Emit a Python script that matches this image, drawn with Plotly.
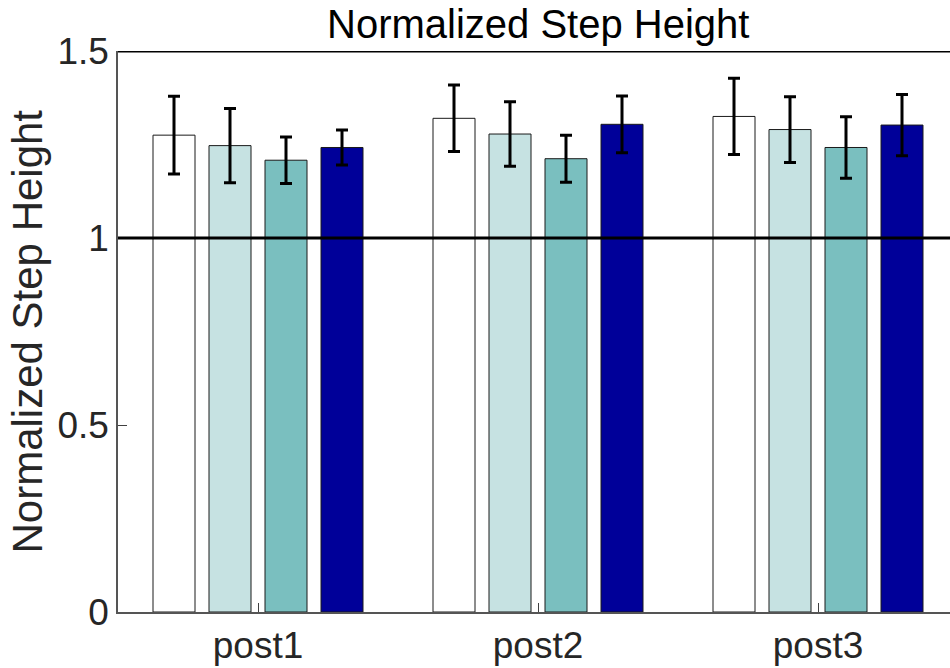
import plotly.graph_objects as go

categories = ["post1", "post2", "post3"]
cat_pos = [1, 2, 3]
series_names = ["A", "B", "C", "D"]
series_colors = ["#FFFFFF", "#C6E2E2", "#7ABFBF", "#000099"]
means_A = [1.275, 1.320, 1.325]
means_B = [1.247, 1.278, 1.290]
means_C = [1.208, 1.212, 1.242]
means_D = [1.242, 1.304, 1.302]
err_A = [0.104, 0.089, 0.102]
err_B = [0.099, 0.086, 0.088]
err_C = [0.062, 0.063, 0.082]
err_D = [0.047, 0.076, 0.082]
y_ticks = [0, 0.5, 1, 1.5]
y_tick_labels = ["0", "0.5", "1", "1.5"]

means = [means_A, means_B, means_C, means_D]
errs = [err_A, err_B, err_C, err_D]

FONT = "Liberation Sans, Arial, Helvetica, sans-serif"

fig = go.Figure()
for name, col, m, e in zip(series_names, series_colors, means, errs):
    fig.add_trace(go.Bar(
        x=cat_pos, y=m, name=name,
        marker=dict(color=col, line=dict(color="#1a1a1a", width=1)),
        error_y=dict(type="data", array=e, visible=True, color="black",
                     thickness=3, width=6),
    ))

# reference lines
fig.add_hline(y=1, line=dict(color="black", width=3))
fig.add_hline(y=1.5, line=dict(color="black", width=3))

fig.update_layout(
    width=950, height=668,
    margin=dict(l=118, r=0, t=51, b=56),
    barmode="group", bargap=0.2, bargroupgap=0.25,
    plot_bgcolor="white", paper_bgcolor="white",
    showlegend=False,
    font=dict(family=FONT, color="#262626"),
    xaxis=dict(
        range=[0.5, 0.5 + 832 / 280],
        tickmode="array", tickvals=cat_pos, ticktext=categories,
        tickfont=dict(size=37, family=FONT, color="#262626"),
        ticks="inside", ticklen=9, tickcolor="#404040", tickwidth=1,
        showline=True, linecolor="#555555", linewidth=1.5,
        showgrid=False, zeroline=False,
    ),
    yaxis=dict(
        range=[0, 1.5],
        tickmode="array", tickvals=y_ticks, ticktext=y_tick_labels,
        tickfont=dict(size=37, family=FONT, color="#262626"),
        ticks="inside", ticklen=9, tickcolor="#404040", tickwidth=1,
        showline=True, linecolor="#555555", linewidth=1.5,
        showgrid=False, zeroline=False,
    ),
    annotations=[
        dict(text="Normalized Step Height", xref="x", yref="paper",
             x=2, y=1, xanchor="center", yanchor="middle", yshift=27,
             showarrow=False, font=dict(size=40, family=FONT, color="black")),
        dict(text="Normalized Step Height", xref="paper", yref="paper",
             x=0, y=0.5, xanchor="center", yanchor="middle", xshift=-91,
             textangle=-90, showarrow=False,
             font=dict(size=42, family=FONT, color="#262626")),
    ],
)

fig.write_html("out.html")
